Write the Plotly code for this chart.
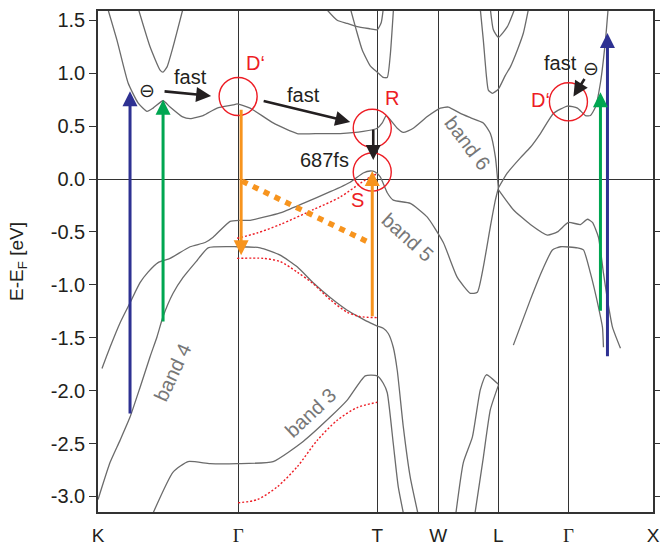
import plotly.graph_objects as go

# ---------------- high-symmetry path ----------------
sym_pos = [0.0, 1.40, 2.79, 3.40, 4.00, 4.70, 5.545]
sym_labels = ["K", '<span style="font-family:Liberation Serif">Γ</span>', "T", "W", "L",
              '<span style="font-family:Liberation Serif">Γ</span>', "X"]
y_ticks = [1.5, 1.0, 0.5, 0.0, -0.5, -1.0, -1.5, -2.0, -2.5, -3.0]
y_ticktext = ["1.5", "1.0", "0.5", "0.0", "-0.5", "-1.0", "-1.5", "-2.0", "-2.5", "-3.0"]

# ---------------- gray band lines (k, E) ----------------
bandA_k = [0.085, 0.19, 0.30, 0.40, 0.49, 0.55, 0.65, 0.72, 0.84, 0.92, 1.05, 1.19, 1.35, 1.39, 1.52, 1.75,
           1.99, 2.22, 2.42, 2.65, 2.79, 2.84, 2.88, 2.92, 2.99, 3.05, 3.15, 3.29, 3.42, 3.50, 3.62, 3.72,
           3.85, 3.92, 3.97, 4.00]
bandA_E = [1.65, 1.31, 0.91, 0.72, 0.64, 0.67, 0.74, 0.68, 0.59, 0.57, 0.60, 0.67, 0.70, 0.71, 0.67, 0.53,
           0.43, 0.43, 0.43, 0.45, 0.48, 0.53, 0.60, 0.56, 0.48, 0.44, 0.48, 0.59, 0.67, 0.68, 0.62, 0.58,
           0.53, 0.43, 0.21, -0.085]
bandA2_k = [4.00, 4.09, 4.22, 4.32, 4.42, 4.55, 4.69, 4.79, 4.87, 4.92, 4.97, 5.02, 5.07, 5.10]
bandA2_E = [-0.085, 0.057, 0.20, 0.30, 0.43, 0.62, 0.69, 0.67, 0.60, 0.60, 0.68, 0.91, 1.31, 1.65]

band5_k = [0.04, 0.12, 0.22, 0.32, 0.42, 0.50, 0.60, 0.72, 0.92, 1.07, 1.15, 1.32, 1.42, 1.52, 1.82, 2.05,
           2.32, 2.52, 2.65, 2.72, 2.77, 2.82, 2.89, 2.95, 3.12, 3.29, 3.45, 3.59, 3.72, 3.79, 3.85, 3.92,
           3.97, 4.00]
band5_E = [-1.79, -1.59, -1.36, -1.17, -0.98, -0.88, -0.79, -0.75, -0.64, -0.60, -0.55, -0.40, -0.39, -0.39,
           -0.32, -0.23, -0.12, -0.03, 0.057, 0.076, 0.066, 0.02, -0.13, -0.20, -0.23, -0.36, -0.60, -0.93,
           -1.08, -1.07, -0.83, -0.45, -0.20, -0.085]
bandG2a_k = [4.00, 4.15, 4.32, 4.49, 4.59, 4.70, 4.82, 4.89, 4.94, 5.00, 5.05, 5.09, 5.14, 5.22]
bandG2a_E = [-0.10, -0.29, -0.43, -0.53, -0.50, -0.41, -0.43, -0.38, -0.41, -0.55, -0.89, -1.14, -1.40, -1.60]
bandG2b_k = [4.15, 4.32, 4.44, 4.54, 4.62, 4.79, 4.85, 4.92, 5.00, 5.04, 5.05]
bandG2b_E = [-1.57, -1.14, -0.86, -0.67, -0.64, -0.65, -0.67, -0.89, -1.21, -1.40, -1.59]

band4_k = [0.00, 0.02, 0.12, 0.22, 0.32, 0.42, 0.52, 0.59, 0.65, 0.75, 0.85, 0.99, 1.10, 1.39, 1.62, 1.82,
           1.99, 2.15, 2.32, 2.49, 2.62, 2.72, 2.79, 2.85, 2.90, 2.95, 2.99, 3.05, 3.12, 3.21]
band4_E = [-3.03, -2.97, -2.68, -2.47, -2.25, -1.97, -1.68, -1.49, -1.30, -1.08, -0.93, -0.77, -0.65, -0.64,
           -0.65, -0.72, -0.83, -0.98, -1.12, -1.24, -1.31, -1.36, -1.39, -1.41, -1.46, -1.59, -1.81, -2.34,
           -2.82, -3.22]

band3_k = [0.53, 0.75, 0.90, 1.12, 1.39, 1.75, 2.05, 2.32, 2.49, 2.67, 2.79, 2.85, 2.89, 2.95, 3.00, 3.06]
band3_E = [-3.20, -2.77, -2.67, -2.69, -2.69, -2.67, -2.48, -2.25, -2.09, -1.86, -1.86, -1.93, -2.02, -2.50,
           -2.91, -3.20]

bandWL1_k = [3.57, 3.65, 3.74, 3.82, 3.88, 4.00]
bandWL1_E = [-3.20, -2.68, -2.44, -1.99, -1.85, -1.94]
bandWL2_k = [3.76, 3.85, 3.92, 4.00]
bandWL2_E = [-3.20, -2.63, -2.18, -1.95]

topK_k = [0.39, 0.52, 0.62, 0.65, 0.69, 0.75, 0.86]
topK_E = [1.65, 1.25, 1.03, 1.01, 1.06, 1.25, 1.65]
topT1_k = [2.24, 2.39, 2.49, 2.59, 2.72, 2.79, 2.83, 2.855]
topT1_E = [1.65, 1.50, 1.47, 1.44, 1.42, 1.41, 1.48, 1.65]
topT2_k = [2.51, 2.58, 2.64, 2.72, 2.79, 2.85, 2.89, 2.92, 2.955]
topT2_E = [1.65, 1.41, 1.22, 1.07, 1.01, 0.96, 0.96, 1.17, 1.65]
topL1_k = [3.815, 3.85, 3.88, 3.90, 3.94, 4.00, 4.07, 4.12, 4.19, 4.25, 4.31]
topL1_E = [1.65, 1.31, 0.98, 0.84, 0.81, 0.85, 0.98, 1.06, 1.22, 1.38, 1.65]
topL2_k = [3.915, 3.95, 4.00, 4.09, 4.18]
topL2_E = [1.65, 1.41, 1.34, 1.44, 1.65]

# ---------------- red dotted (excited-state) curves ----------------
red1_k = [1.39, 1.59, 1.82, 2.15, 2.42, 2.62, 2.72, 2.79]
red1_E = [-0.56, -0.51, -0.43, -0.29, -0.17, -0.04, 0.02, 0.05]
red2_k = [1.39, 1.65, 1.82, 1.99, 2.15, 2.32, 2.49, 2.62, 2.79]
red2_E = [-0.75, -0.75, -0.78, -0.88, -0.99, -1.14, -1.26, -1.30, -1.31]
red3_k = [1.40, 1.59, 1.79, 1.99, 2.19, 2.39, 2.59, 2.79]
red3_E = [-3.06, -3.03, -2.91, -2.72, -2.47, -2.28, -2.16, -2.11]

# ---------------- orange transitions ----------------
orange_dot_k = [1.44, 2.73]
orange_dot_E = [-0.02, -0.61]
# arrows: (tail_k, tail_E, tip_k, tip_E)
orange_arrows = [(1.43, 0.67, 1.43, -0.72), (2.74, -1.31, 2.74, 0.076)]
blue_arrows = [(0.32, -2.23, 0.32, 0.83), (5.09, -1.69, 5.09, 1.38)]
green_arrows = [(0.65, -1.36, 0.65, 0.75), (5.02, -1.26, 5.02, 0.82)]
black_arrows = [(0.65, 0.83, 1.13, 0.785), (1.64, 0.74, 2.52, 0.54), (2.75, 0.48, 2.75, 0.18),
                (4.87, 0.96, 4.75, 0.78)]

# ---------------- circles (center k, center E) ----------------
circle_centers = [(1.40, 0.78), (2.74, 0.48), (2.74, 0.066), (4.70, 0.73)]
circle_rk, circle_rE = 0.19, 0.18

# ---------------- labels ----------------
red_labels = [("D‘", 1.57, 1.10), ("R", 2.94, 0.77), ("S", 2.59, -0.20), ("D‘", 4.42, 0.75)]
black_labels = [("fast", 0.92, 0.96), ("fast", 2.05, 0.79), ("687fs", 2.26, 0.18), ("fast", 4.62, 1.10),
                ("⊖", 0.49, 0.84), ("⊖", 4.93, 1.05)]
band_labels = [("band 4", 0.74, -1.83, -65), ("band 3", 2.12, -2.21, -43), ("band 5", 3.09, -0.55, 42),
               ("band 6", 3.69, 0.34, 53)]

GRAY = "#6b6b6b"
RED = "#ED1C24"
ORANGE = "#F7941E"
BLUE = "#2E3192"
GREEN = "#00A651"
BLACK = "#231F20"
FONT = "Liberation Sans"

fig = go.Figure()

gray_sets = [(bandA_k, bandA_E), (bandA2_k, bandA2_E), (band5_k, band5_E), (bandG2a_k, bandG2a_E),
             (bandG2b_k, bandG2b_E), (band4_k, band4_E), (band3_k, band3_E), (bandWL1_k, bandWL1_E),
             (bandWL2_k, bandWL2_E), (topK_k, topK_E), (topT1_k, topT1_E), (topT2_k, topT2_E),
             (topL1_k, topL1_E), (topL2_k, topL2_E)]
for kx, ey in gray_sets:
    fig.add_trace(go.Scatter(x=kx, y=ey, mode="lines", line=dict(color=GRAY, width=1.3, shape="spline",
                                                                     smoothing=0.5),
                             hoverinfo="skip", showlegend=False))

for kx, ey in [(red1_k, red1_E), (red2_k, red2_E), (red3_k, red3_E)]:
    fig.add_trace(go.Scatter(x=kx, y=ey, mode="lines",
                             line=dict(color=RED, width=1.4, dash="2px,2px", shape="spline", smoothing=0.8),
                             hoverinfo="skip", showlegend=False))

fig.add_trace(go.Scatter(x=orange_dot_k, y=orange_dot_E, mode="lines",
                         line=dict(color=ORANGE, width=5.5, dash="6px,6px"),
                         hoverinfo="skip", showlegend=False))

shapes = []
for ck, ce in circle_centers:
    shapes.append(dict(type="circle", xref="x", yref="y", x0=ck - circle_rk, x1=ck + circle_rk,
                       y0=ce - circle_rE, y1=ce + circle_rE, line=dict(color=RED, width=1.4)))

annotations = []


def arrow(a, color, width, size):
    tk, te, hk, he = a
    annotations.append(dict(x=hk, y=he, ax=tk, ay=te, xref="x", yref="y", axref="x", ayref="y",
                            text="", showarrow=True, arrowhead=2, arrowsize=size, arrowwidth=width,
                            arrowcolor=color, standoff=0, startstandoff=0))


for a in blue_arrows:
    arrow(a, BLUE, 3, 1.0)
for a in green_arrows:
    arrow(a, GREEN, 3, 1.0)
for a in orange_arrows:
    arrow(a, ORANGE, 3, 1.0)
for a in black_arrows:
    arrow(a, BLACK, 2.6, 1.15)

for t, kx, ey in red_labels:
    annotations.append(dict(x=kx, y=ey, xref="x", yref="y", text=t, showarrow=False,
                            font=dict(family=FONT, size=20, color=RED)))
for t, kx, ey in black_labels:
    annotations.append(dict(x=kx, y=ey, xref="x", yref="y", text=t, showarrow=False,
                            font=dict(family=FONT if t != "⊖" else "DejaVu Sans", size=20 if t != "⊖" else 19,
                                      color=BLACK)))
for t, kx, ey, ang in band_labels:
    annotations.append(dict(x=kx, y=ey, xref="x", yref="y", text=t, showarrow=False, textangle=ang,
                            font=dict(family=FONT, size=20, color="#777777")))

fig.update_layout(
    width=660, height=548,
    margin=dict(l=98, r=7, t=11, b=36, autoexpand=False),
    paper_bgcolor="white", plot_bgcolor="white",
    shapes=shapes, annotations=annotations,
    font=dict(family=FONT, size=20, color=BLACK),
    xaxis=dict(range=[0, 5.545], tickvals=sym_pos, ticktext=sym_labels, showgrid=True,
               gridcolor="#333333", gridwidth=1.3, zeroline=False, showline=True, linecolor="#333333",
               linewidth=1.5, mirror=True, ticks="outside", ticklen=5, tickcolor="rgba(0,0,0,0)",
               automargin=False, tickfont=dict(family=FONT, size=19, color=BLACK)),
    yaxis=dict(range=[-3.147, 1.588], tickvals=y_ticks, ticktext=y_ticktext, showgrid=False,
               zeroline=True, zerolinecolor="#333333", zerolinewidth=1.3, showline=True,
               linecolor="#333333", linewidth=1.5, mirror="ticks", ticks="outside", ticklen=7,
               tickcolor="#333333", tickwidth=1.3, tickfont=dict(family=FONT, size=20, color=BLACK),
               automargin=False,
               title=dict(text="E-E<sub>F</sub> [eV]", font=dict(family=FONT, size=19, color=BLACK),
                          standoff=22)),
)

fig.write_html("out.html", config={"displayModeBar": False},
               post_script="document.body.style.margin='0';document.body.style.overflow='hidden';")
